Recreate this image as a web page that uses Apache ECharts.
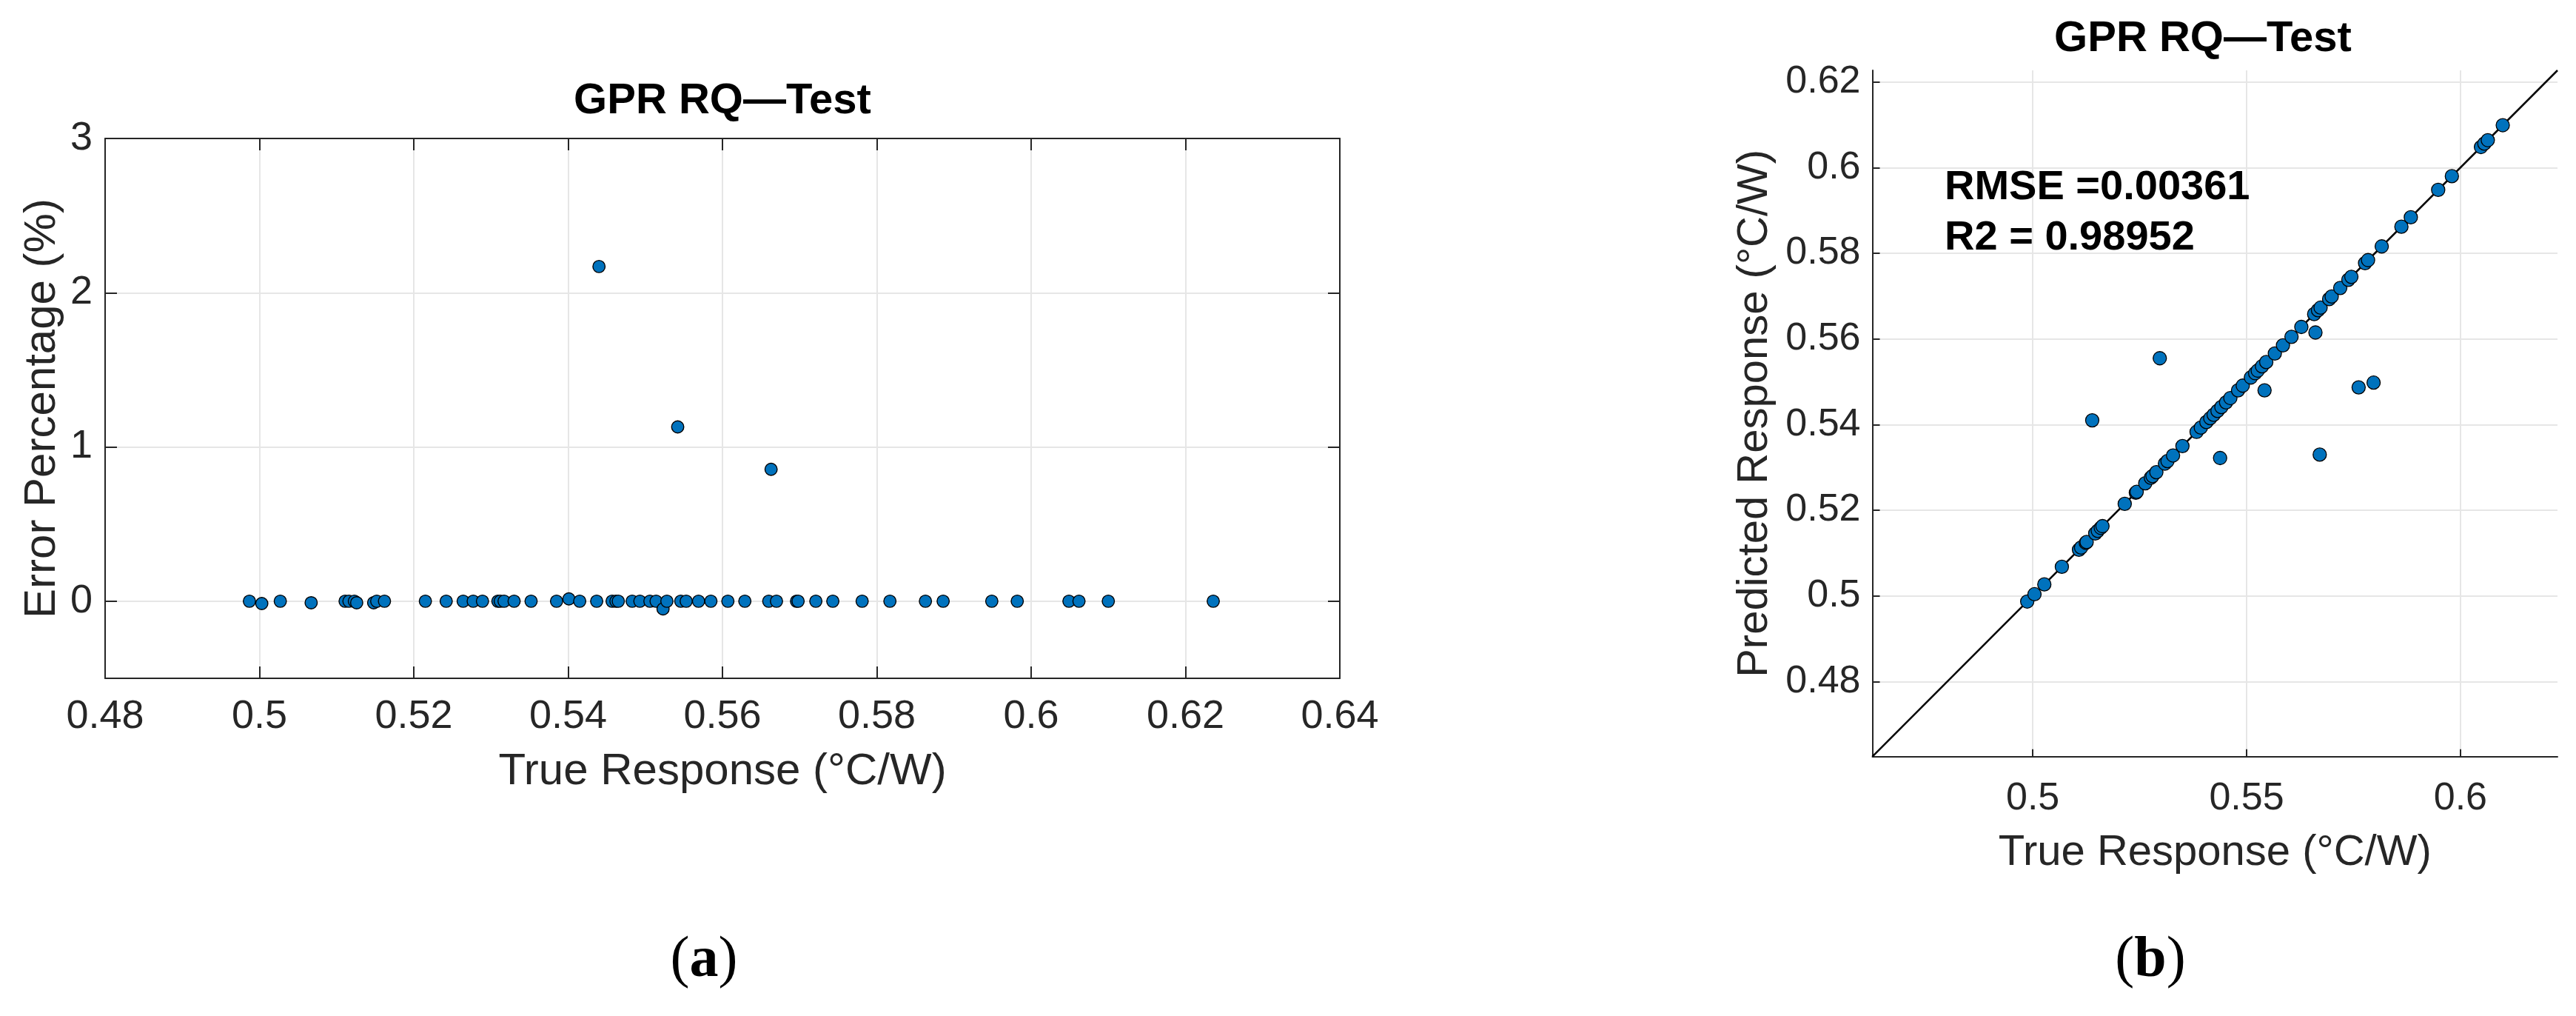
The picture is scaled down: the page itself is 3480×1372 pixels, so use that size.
<!DOCTYPE html>
<html><head><meta charset="utf-8">
<script src="https://cdn.jsdelivr.net/npm/echarts@6/dist/echarts.min.js"></script>
<style>html,body{margin:0;padding:0;background:#fff}#c{width:3480px;height:1372px}</style>
</head><body><div id="c"></div>
<script>
const FONT = '"Liberation Sans", Arial, Helvetica, sans-serif';
const SERIF = '"Liberation Serif", "Times New Roman", serif';

// ---------- Panel (a): error percentage vs true response ----------
const aTitle = 'GPR RQ\u2014Test';
const aXName = 'True Response (\u00B0C/W)';
const aYName = 'Error Percentage (%)';
const aTrue = [0.4987, 0.5003, 0.5027, 0.5067, 0.5111, 0.5116, 0.5123, 0.5126, 0.5148, 0.5152,
  0.5162, 0.5215, 0.5242, 0.5264, 0.5277, 0.5289, 0.5309, 0.5312, 0.5317, 0.5330,
  0.5352, 0.5385, 0.5401, 0.5415, 0.5437, 0.5457, 0.5462, 0.5465, 0.5483, 0.5493,
  0.5506, 0.5514, 0.5523, 0.5528, 0.5546, 0.5553, 0.5569, 0.5585, 0.5607, 0.5629,
  0.5660, 0.5670, 0.5696, 0.5698, 0.5721, 0.5743, 0.5781, 0.5817, 0.5863, 0.5886,
  0.5949, 0.5982, 0.6049, 0.6062, 0.6100, 0.6236, 0.5440, 0.5542, 0.5663];
const aErr = [0, -0.015, 0, -0.01, 0, 0, 0, -0.01, -0.01, 0,
  0, 0, 0, 0, 0, 0, 0, 0, 0, 0,
  0, 0, 0.015, 0, 0, 0, 0, 0, 0, 0,
  0, 0, -0.05, 0, 0, 0, 0, 0, 0, 0,
  0, 0, 0, 0, 0, 0, 0, 0, 0, 0,
  0, 0, 0, 0, 0, 0, 2.17, 1.13, 0.855];
const aXRange = [0.48, 0.64];
const aXStep = 0.02;
const aYRange = [-0.5, 3];
const aYTicks = [0, 1, 2, 3];

// ---------- Panel (b): predicted vs true response ----------
const bTitle = 'GPR RQ\u2014Test';
const bXName = 'True Response (\u00B0C/W)';
const bYName = 'Predicted Response (\u00B0C/W)';
const bTrue = [0.4987, 0.5004, 0.5027, 0.5068, 0.5108, 0.5113, 0.5124, 0.5126, 0.5146, 0.5152,
  0.5159, 0.5163, 0.5215, 0.5241, 0.5243, 0.5263, 0.5276, 0.5280, 0.5289, 0.5309,
  0.5315, 0.5328, 0.5350, 0.5383, 0.5393, 0.5406, 0.5415, 0.5423, 0.5432, 0.5441,
  0.5452, 0.5462, 0.5480, 0.5491, 0.5510, 0.5520, 0.5526, 0.5536, 0.5546, 0.5566,
  0.5585, 0.5605, 0.5628, 0.5658, 0.5667, 0.5673, 0.5693, 0.5699, 0.5719, 0.5738,
  0.5745, 0.5777, 0.5784, 0.5816, 0.5862, 0.5884, 0.5948, 0.5980, 0.6048, 0.6056,
  0.6064, 0.6099,
  0.5139, 0.5297, 0.5438, 0.5542, 0.5661, 0.5671, 0.5762, 0.5797];
const bPred = [0.4987, 0.5004, 0.5027, 0.5068, 0.5108, 0.5113, 0.5124, 0.5126, 0.5146, 0.5152,
  0.5159, 0.5163, 0.5215, 0.5241, 0.5243, 0.5263, 0.5276, 0.5280, 0.5289, 0.5309,
  0.5315, 0.5328, 0.5350, 0.5383, 0.5393, 0.5406, 0.5415, 0.5423, 0.5432, 0.5441,
  0.5452, 0.5462, 0.5480, 0.5491, 0.5510, 0.5520, 0.5526, 0.5536, 0.5546, 0.5566,
  0.5585, 0.5605, 0.5628, 0.5658, 0.5667, 0.5673, 0.5693, 0.5699, 0.5719, 0.5738,
  0.5745, 0.5777, 0.5784, 0.5816, 0.5862, 0.5884, 0.5948, 0.5980, 0.6048, 0.6056,
  0.6064, 0.6099,
  0.5410, 0.5555, 0.5322, 0.5480, 0.5615, 0.5330, 0.5487, 0.5498];
const bRange = [0.4625, 0.6227];
const bXTicks = [0.5, 0.55, 0.6];
const bYTicks = [0.48, 0.5, 0.52, 0.54, 0.56, 0.58, 0.6, 0.62];
const bStats = ['RMSE =0.00361', 'R2 = 0.98952'];
const panelLabels = ['a', 'b'];

// ---------- styling ----------
const AX = '#262626';
const GRIDC = '#e6e6e6';
const DOT = '#0072BD';

function baseAxis(extra) {
  return Object.assign({
    type: 'value',
    axisLine: { show: true, onZero: false, lineStyle: { color: AX, width: 2 } },
    axisTick: { show: true, inside: true, length: 16, lineStyle: { color: AX, width: 2 } },
    axisLabel: { show: true, color: AX, fontFamily: FONT, fontSize: 54 },
    splitLine: { show: false },
    nameLocation: 'middle',
    nameTextStyle: { color: AX, fontFamily: FONT, fontSize: 60 }
  }, extra);
}

const chart = echarts.init(document.getElementById('c'), null, { renderer: 'canvas' });

const option = {
  backgroundColor: '#fff',
  animation: false,
  grid: [
    { left: 142, top: 187, width: 1668, height: 729, containLabel: false, outerBoundsMode: 'none' },
    { left: 2529.5, top: 95, width: 925.5, height: 926.7, containLabel: false, outerBoundsMode: 'none' }
  ],
  xAxis: [
    baseAxis({
      gridIndex: 0, position: 'bottom', min: aXRange[0], max: aXRange[1], interval: aXStep,
      axisLabel: { show: true, color: AX, fontFamily: FONT, fontSize: 54, margin: 25 },
      splitLine: { show: true, lineStyle: { color: GRIDC, width: 2 } },
      name: aXName, nameGap: 96
    }),
    baseAxis({
      gridIndex: 0, position: 'top', min: aXRange[0], max: aXRange[1], interval: aXStep,
      axisLabel: { show: false }
    }),
    baseAxis({
      gridIndex: 1, position: 'bottom', min: bRange[0], max: bRange[1],
      axisTick: { show: true, inside: true, length: 10, lineStyle: { color: AX, width: 2 }, customValues: bXTicks },
      axisLabel: { show: true, color: AX, fontFamily: FONT, fontSize: 52, margin: 31, customValues: bXTicks },
      splitLine: { show: true, lineStyle: { color: GRIDC, width: 2 } },
      name: bXName, nameGap: 101,
      nameTextStyle: { color: AX, fontFamily: FONT, fontSize: 58 }
    })
  ],
  yAxis: [
    baseAxis({
      gridIndex: 0, position: 'left', min: aYRange[0], max: aYRange[1],
      axisTick: { show: true, inside: true, length: 16, lineStyle: { color: AX, width: 2 }, customValues: aYTicks },
      axisLabel: { show: true, color: AX, fontFamily: FONT, fontSize: 54, margin: 17, customValues: aYTicks },
      splitLine: { show: true, lineStyle: { color: GRIDC, width: 2 } },
      name: aYName, nameGap: 55
    }),
    baseAxis({
      gridIndex: 0, position: 'right', min: aYRange[0], max: aYRange[1],
      axisTick: { show: true, inside: true, length: 16, lineStyle: { color: AX, width: 2 }, customValues: aYTicks },
      axisLabel: { show: false }
    }),
    baseAxis({
      gridIndex: 1, position: 'left', min: bRange[0], max: bRange[1],
      axisTick: { show: true, inside: true, length: 10, lineStyle: { color: AX, width: 2 }, customValues: bYTicks },
      axisLabel: { show: true, color: AX, fontFamily: FONT, fontSize: 52, margin: 16, customValues: bYTicks },
      splitLine: { show: true, lineStyle: { color: GRIDC, width: 2 } },
      name: bYName, nameGap: 130,
      nameTextStyle: { color: AX, fontFamily: FONT, fontSize: 58 }
    })
  ],
  series: [
    {
      type: 'scatter', xAxisIndex: 0, yAxisIndex: 0, z: 5,
      data: aTrue.map((x, i) => [x, aErr[i]]),
      symbol: 'circle', symbolSize: 16.5,
      itemStyle: { color: DOT, borderColor: '#000', borderWidth: 1.4, opacity: 1 }
    },
    {
      type: 'line', xAxisIndex: 2, yAxisIndex: 2, z: 3, silent: true,
      data: [[bRange[0], bRange[0]], [bRange[1], bRange[1]]],
      symbol: 'none', lineStyle: { color: '#000', width: 2.5 }
    },
    {
      type: 'scatter', xAxisIndex: 2, yAxisIndex: 2, z: 5,
      data: bTrue.map((x, i) => [x, bPred[i]]),
      symbol: 'circle', symbolSize: 18,
      itemStyle: { color: DOT, borderColor: '#000', borderWidth: 1.3, opacity: 1 }
    }
  ],
  graphic: [
    { type: 'text', x: 976, y: 137, z: 10,
      style: { text: aTitle, fontFamily: FONT, fontSize: 58, fontWeight: 'bold', fill: '#000', textAlign: 'center', textVerticalAlign: 'middle' } },
    { type: 'text', x: 2976, y: 53, z: 10,
      style: { text: bTitle, fontFamily: FONT, fontSize: 58, fontWeight: 'bold', fill: '#000', textAlign: 'center', textVerticalAlign: 'middle' } },
    { type: 'text', x: 2627, y: 254, z: 10,
      style: { text: bStats[0], fontFamily: FONT, fontSize: 56, fontWeight: 'bold', fill: '#000', textAlign: 'left', textVerticalAlign: 'middle' } },
    { type: 'text', x: 2627, y: 322, z: 10,
      style: { text: bStats[1], fontFamily: FONT, fontSize: 56, fontWeight: 'bold', fill: '#000', textAlign: 'left', textVerticalAlign: 'middle' } },
    { type: 'text', x: 951, y: 1298, z: 10,
      style: { text: '({b|' + panelLabels[0] + '})', fontFamily: SERIF, fontSize: 78, fill: '#000', textAlign: 'center', textVerticalAlign: 'middle',
        rich: { b: { fontFamily: SERIF, fontSize: 78, fontWeight: 'bold', fill: '#000' } } } },
    { type: 'text', x: 2905, y: 1298, z: 10,
      style: { text: '({b|' + panelLabels[1] + '})', fontFamily: SERIF, fontSize: 78, fill: '#000', textAlign: 'center', textVerticalAlign: 'middle',
        rich: { b: { fontFamily: SERIF, fontSize: 78, fontWeight: 'bold', fill: '#000' } } } }
  ]
};
chart.setOption(option);
</script>
</body></html>
